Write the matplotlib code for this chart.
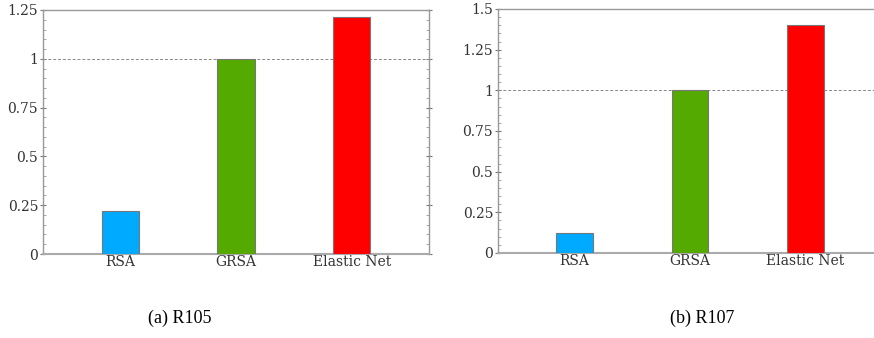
import matplotlib
matplotlib.use("Agg")
import matplotlib.pyplot as plt
from matplotlib.ticker import MultipleLocator, FuncFormatter

methods = ["RSA", "GRSA", "Elastic Net"]
r105 = [0.22, 1.0, 1.215]
r107 = [0.12, 1.0, 1.40]
colors = ["#00aaff", "#55aa00", "#ff0000"]
captions = ["(a) R105", "(b) R107"]

fig = plt.figure(figsize=(8.74, 3.38), dpi=100)

def fmt(v, pos):
    s = f"{v:.2f}".rstrip("0").rstrip(".")
    return s

def draw(ax, values, ymax):
    x = range(len(methods))
    ax.bar(x, values, width=0.32, color=colors, edgecolor="#777777", linewidth=0.8, zorder=3)
    ax.axhline(1.0, color="#888888", linestyle=(0, (3, 2)), linewidth=0.7, zorder=2)
    ax.set_xlim(-0.665, 2.665)
    ax.set_ylim(0, ymax)
    ax.set_xticks(list(x))
    ax.set_xticklabels(methods, family="DejaVu Serif", fontsize=10, color="#333333")
    ax.tick_params(axis="x", length=0, pad=1)
    ax.yaxis.set_major_locator(MultipleLocator(0.25))
    ax.yaxis.set_minor_locator(MultipleLocator(0.05))
    ax.yaxis.set_major_formatter(FuncFormatter(fmt))
    ax.tick_params(axis="y", which="major", direction="inout", length=5, width=0.8,
                   color="#777777", right=True, labelsize=10, labelcolor="#333333", pad=1)
    ax.tick_params(axis="y", which="minor", direction="in", length=2.5, width=0.6,
                   color="#999999", right=True)
    for lab in ax.get_yticklabels():
        lab.set_family("DejaVu Serif")
    for s in ax.spines.values():
        s.set_color("#999999")
        s.set_linewidth(1.0)
    ax.spines["bottom"].set_color("#aaaaaa")
    ax.spines["bottom"].set_linewidth(1.5)

W, H = 874, 338
ax1 = fig.add_axes([43 / W, 1 - 254 / H, (429 - 43) / W, (254 - 10) / H])
draw(ax1, r105, 1.25)
ax2 = fig.add_axes([498 / W, 1 - 253 / H, (882 - 498) / W, (253 - 9) / H])
draw(ax2, r107, 1.5)

fig.text(180 / W, 1 - 318 / H, captions[0], family="Liberation Serif", fontsize=13,
         ha="center", va="center", color="black")
fig.text(702 / W, 1 - 318 / H, captions[1], family="Liberation Serif", fontsize=13,
         ha="center", va="center", color="black")

fig.savefig("out.png", dpi=100)
